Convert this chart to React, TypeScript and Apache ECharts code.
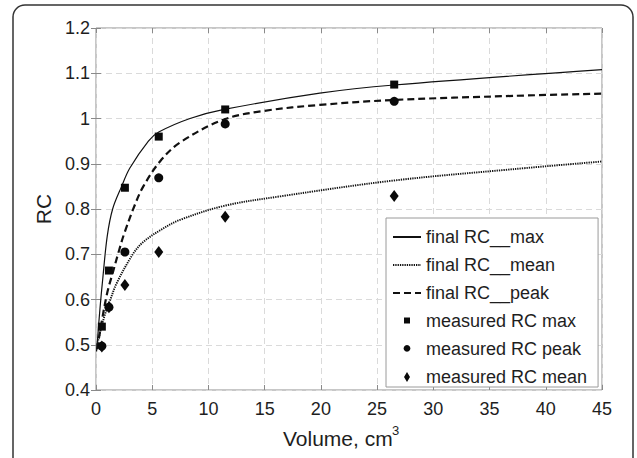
import React, { useEffect, useRef } from "react";
import * as echarts from "echarts";

// Measured sphere volumes (cm^3) and recovery coefficients
const volumes = [0.52, 1.15, 2.57, 5.58, 11.49, 26.52];
const measuredMax = [0.54, 0.664, 0.847, 0.96, 1.02, 1.075];
const measuredPeak = [0.497, 0.583, 0.705, 0.869, 0.988, 1.038];
const measuredMean = [0.496, 0.583, 0.632, 0.705, 0.783, 0.829];

// Fitted curves
const maxCurveX = [0.05, 0.36, 0.59, 1.0, 1.48, 2.28, 3.0, 4.66, 5.58, 8.36, 11.4, 19.9, 26.5, 45];
const maxCurveY = [0.485, 0.582, 0.643, 0.74, 0.8, 0.85, 0.89, 0.95, 0.97, 1.0, 1.02, 1.056, 1.074, 1.108];
const peakCurveX = [0.1, 0.5, 1.0, 1.5, 2.07, 2.5, 3.47, 4.21, 5.69, 7.47, 11.4, 15, 19.9, 26.5, 37.1, 45];
const peakCurveY = [0.49, 0.55, 0.615, 0.66, 0.71, 0.745, 0.81, 0.85, 0.905, 0.947, 0.998, 1.017, 1.03, 1.041, 1.05, 1.055];
const meanCurveX = [0.1, 0.5, 0.8, 1.25, 1.84, 3.3, 4.2, 5.84, 7.47, 11.4, 16.4, 26.5, 37.1, 45];
const meanCurveY = [0.5, 0.54, 0.567, 0.598, 0.636, 0.701, 0.727, 0.755, 0.776, 0.807, 0.828, 0.863, 0.888, 0.905];

const seriesNames = [
  "final RC__max",
  "final RC__mean",
  "final RC__peak",
  "measured RC max",
  "measured RC peak",
  "measured RC mean",
];

const zip = (xs: number[], ys: number[]) => xs.map((x, i) => [x, ys[i]]);

const FONT = "Liberation Sans, Arial, Helvetica, sans-serif";
const INK = "#1e1e1e";

export default function App() {
  const ref = useRef<HTMLDivElement>(null);
  useEffect(() => {
    if (!ref.current) return;
    const chart = echarts.init(ref.current, undefined, { renderer: "svg" });
    const gridLine = { show: true, lineStyle: { color: "#dadada", type: [6, 4] as any, width: 1 } };
    const tick = { show: true, inside: true, length: 5, lineStyle: { color: "#8a8a8a" } };
    const hiddenIcon = { color: "transparent", opacity: 0, borderWidth: 0 };
    const option: any = {
      animation: false,
      backgroundColor: "#ffffff",
      textStyle: { fontFamily: FONT },
      grid: {
        left: 96,
        right: 35,
        top: 28,
        bottom: 68,
        show: true,
        borderColor: "#8f8f8f",
        borderWidth: 1,
        backgroundColor: "transparent",
      },
      xAxis: [
        {
          type: "value",
          min: 0,
          max: 45,
          interval: 5,
          axisLine: { show: false },
          axisTick: tick,
          splitLine: gridLine,
          axisLabel: { color: INK, fontSize: 18, fontFamily: FONT, margin: 10 },
        },
        {
          type: "value",
          position: "top",
          min: 0,
          max: 45,
          interval: 5,
          axisLine: { show: false },
          axisTick: tick,
          splitLine: { show: false },
          axisLabel: { show: false },
        },
      ],
      yAxis: [
        {
          type: "value",
          min: 0.4,
          max: 1.2,
          interval: 0.1,
          axisLine: { show: false },
          axisTick: tick,
          splitLine: gridLine,
          name: "RC",
          nameLocation: "middle",
          nameGap: 40,
          nameTextStyle: { color: INK, fontSize: 21, fontFamily: FONT },
          axisLabel: {
            color: INK,
            fontSize: 18,
            fontFamily: FONT,
            margin: 6,
            formatter: (v: number) => String(Math.round(v * 10) / 10),
          },
        },
        {
          type: "value",
          position: "right",
          min: 0.4,
          max: 1.2,
          interval: 0.1,
          axisLine: { show: false },
          axisTick: tick,
          splitLine: { show: false },
          axisLabel: { show: false },
        },
      ],
      legend: {
        orient: "vertical",
        left: 386,
        top: 218,
        padding: [10, 11, 1, 6],
        itemWidth: 28,
        itemHeight: 12,
        itemGap: 10,
        backgroundColor: "#ffffff",
        borderColor: "#9a9a9a",
        borderWidth: 1,
        borderRadius: 0,
        textStyle: { color: INK, fontSize: 18, fontFamily: FONT, lineHeight: 18 },
        data: [
          { name: seriesNames[0], itemStyle: hiddenIcon },
          { name: seriesNames[1], itemStyle: hiddenIcon },
          { name: seriesNames[2], itemStyle: hiddenIcon },
          { name: seriesNames[3], icon: "path://M0,0M28,12M11,2.5h6v6h-6z" },
          { name: seriesNames[4], icon: "path://M0,0M28,12M14,2A3.4,3.4,0,1,1,13.99,2z" },
          { name: seriesNames[5], icon: "path://M0,0M28,12M14,1L17,6L14,11L11,6z" },
        ],
      },
      graphic: [
        {
          type: "rect",
          silent: true,
          z: -10,
          shape: { x: 13, y: 5, width: 620, height: 480, r: 12 },
          style: { fill: "none", stroke: "#333333", lineWidth: 1.5 },
        },
        {
          type: "text",
          left: 283,
          top: 428,
          style: { text: "Volume, cm", fill: INK, fontSize: 21, fontFamily: FONT },
        },
        {
          type: "text",
          left: 392,
          top: 424,
          style: { text: "3", fill: INK, fontSize: 13, fontFamily: FONT },
        },
      ],
      series: [
        {
          name: seriesNames[0],
          type: "line",
          data: zip(maxCurveX, maxCurveY),
          symbol: "none",
          smooth: 0.35,
          lineStyle: { color: "#111111", width: 1.2, type: "solid" },
          itemStyle: { color: "#111111" },
          z: 3,
        },
        {
          name: seriesNames[1],
          type: "line",
          data: zip(meanCurveX, meanCurveY),
          symbol: "none",
          smooth: 0.35,
          lineStyle: { color: "#111111", width: 1.9, type: [1.3, 1] },
          itemStyle: { color: "#111111" },
          z: 3,
        },
        {
          name: seriesNames[2],
          type: "line",
          data: zip(peakCurveX, peakCurveY),
          symbol: "none",
          smooth: 0.35,
          lineStyle: { color: "#111111", width: 2.2, type: [7, 4] },
          itemStyle: { color: "#111111" },
          z: 3,
        },
        {
          name: seriesNames[3],
          type: "scatter",
          data: zip(volumes, measuredMax),
          symbol: "rect",
          symbolSize: 8,
          itemStyle: { color: "#0a0a0a", opacity: 1 },
          z: 4,
        },
        {
          name: seriesNames[4],
          type: "scatter",
          data: zip(volumes, measuredPeak),
          symbol: "circle",
          symbolSize: 9,
          itemStyle: { color: "#0a0a0a", opacity: 1 },
          z: 4,
        },
        {
          name: seriesNames[5],
          type: "scatter",
          data: zip(volumes, measuredMean),
          symbol: "diamond",
          symbolSize: [9, 12],
          itemStyle: { color: "#0a0a0a", opacity: 1 },
          z: 5,
        },
      ],
    };
    chart.setOption(option);
    return () => chart.dispose();
  }, []);
  return (
    <div
      ref={ref}
      style={{ position: "fixed", left: 0, top: 0, width: 637, height: 458, background: "#fff" }}
    />
  );
}
